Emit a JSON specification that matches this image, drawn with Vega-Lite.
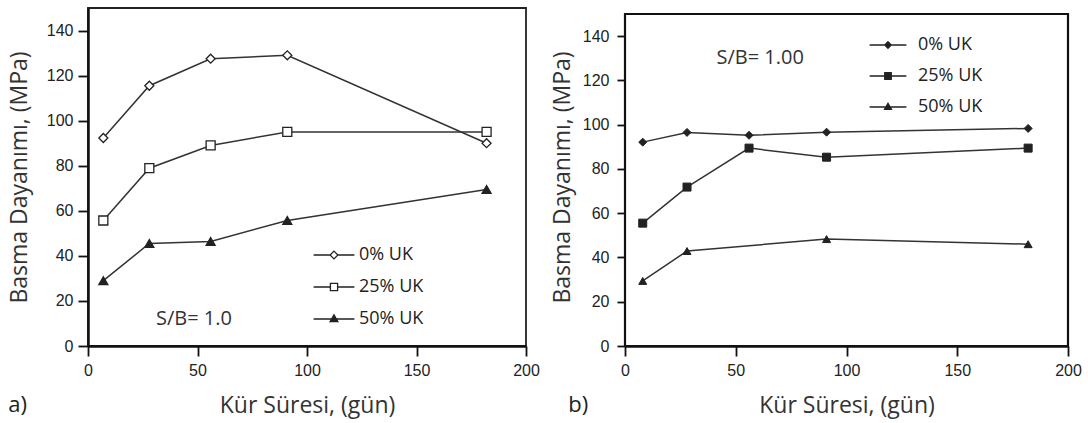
{
  "$schema": "https://vega.github.io/schema/vega-lite/v6.json",
  "background": "white",
  "padding": {"left": 7, "top": 7, "right": 3, "bottom": 3},
  "spacing": 10,
  "resolve": {"scale": {"shape": "independent", "fill": "independent", "x": "independent", "y": "independent"}, "legend": {"shape": "independent", "fill": "independent"}},
  "config": {
    "view": {"stroke": "#222", "strokeWidth": 1.8},
    "axis": {"domainColor": "#111", "domainWidth": 2.5, "tickColor": "#111", "tickWidth": 1.8, "tickSize": 10, "labelFont": "Liberation Sans", "labelFontSize": 16, "labelColor": "#222", "labelPadding": 5, "titleFont": "Open Sans", "titleFontSize": 23, "titleColor": "#333", "titleFontWeight": "normal", "grid": false},
    "axisX": {"labelFlush": false},
    "title": {"font": "Open Sans", "fontSize": 22, "fontWeight": "normal", "color": "#222"}
  },
  "datasets": {
    "a": [
      {"day": 7, "mpa": 92.3, "series": "0% UK"},
      {"day": 28, "mpa": 115.5, "series": "0% UK"},
      {"day": 56, "mpa": 127.5, "series": "0% UK"},
      {"day": 91, "mpa": 129, "series": "0% UK"},
      {"day": 182, "mpa": 90, "series": "0% UK"},
      {"day": 7, "mpa": 55.7, "series": "25% UK"},
      {"day": 28, "mpa": 78.9, "series": "25% UK"},
      {"day": 56, "mpa": 89, "series": "25% UK"},
      {"day": 91, "mpa": 95, "series": "25% UK"},
      {"day": 182, "mpa": 95, "series": "25% UK"},
      {"day": 7, "mpa": 29, "series": "50% UK"},
      {"day": 28, "mpa": 45.5, "series": "50% UK"},
      {"day": 56, "mpa": 46.4, "series": "50% UK"},
      {"day": 91, "mpa": 55.7, "series": "50% UK"},
      {"day": 182, "mpa": 69.5, "series": "50% UK"}
    ],
    "b": [
      {"day": 8, "mpa": 92.1, "series": "0% UK"},
      {"day": 28, "mpa": 96.5, "series": "0% UK"},
      {"day": 56, "mpa": 95.2, "series": "0% UK"},
      {"day": 91, "mpa": 96.6, "series": "0% UK"},
      {"day": 182, "mpa": 98.3, "series": "0% UK"},
      {"day": 8, "mpa": 55.5, "series": "25% UK"},
      {"day": 28, "mpa": 71.8, "series": "25% UK"},
      {"day": 56, "mpa": 89.4, "series": "25% UK"},
      {"day": 91, "mpa": 85.3, "series": "25% UK"},
      {"day": 182, "mpa": 89.4, "series": "25% UK"},
      {"day": 8, "mpa": 29.4, "series": "50% UK"},
      {"day": 28, "mpa": 42.9, "series": "50% UK"},
      {"day": 91, "mpa": 48.3, "series": "50% UK"},
      {"day": 182, "mpa": 46, "series": "50% UK"}
    ],
    "noteA": [{"day": 48.4, "mpa": 12, "label": "S/B= 1.0"}],
    "noteB": [{"day": 61, "mpa": 130, "label": "S/B= 1.00"}],
    "frame": [{"panel": "b"}]
  },
  "hconcat": [
    {
      "width": 438,
      "height": 338,
      "title": {"text": "a)", "orient": "bottom", "anchor": "start", "frame": "bounds", "offset": -22},
      "resolve": {"scale": {"shape": "independent", "fill": "independent"}, "legend": {"shape": "independent", "fill": "independent"}},
      "layer": [
        {
          "data": {"name": "a"},
          "mark": {"type": "line", "color": "#333", "strokeWidth": 1.5},
          "encoding": {
            "x": {"field": "day", "type": "quantitative", "scale": {"domain": [0, 200], "nice": false}, "axis": {"values": [0, 50, 100, 150, 200], "title": "Kür Süresi, (gün)", "titlePadding": 16, "labelPadding": 6}},
            "y": {"field": "mpa", "type": "quantitative", "scale": {"domain": [0, 150], "nice": false}, "axis": {"values": [0, 20, 40, 60, 80, 100, 120, 140], "title": "Basma Dayanımı, (MPa)", "titlePadding": 15}},
            "detail": {"field": "series", "type": "nominal"}
          }
        },
        {
          "data": {"name": "a"},
          "mark": {"type": "point", "filled": true, "stroke": "#222", "strokeWidth": 1.3, "opacity": 1, "size": 81},
          "encoding": {
            "x": {"field": "day", "type": "quantitative"},
            "y": {"field": "mpa", "type": "quantitative"},
            "shape": {"field": "series", "type": "nominal", "scale": {"domain": ["0% UK", "25% UK", "50% UK"], "range": ["diamond", "square", "triangle-up"]}, "legend": null},
            "fill": {"field": "series", "type": "nominal", "scale": {"domain": ["0% UK", "25% UK", "50% UK"], "range": ["white", "white", "#222"]}, "legend": null}
          }
        },
        {
          "data": {"name": "a"},
          "transform": [{"filter": "false"}],
          "mark": {"type": "point", "filled": true, "stroke": "#222", "strokeWidth": 1.3, "opacity": 1},
          "encoding": {
            "x": {"field": "day", "type": "quantitative"},
            "y": {"field": "mpa", "type": "quantitative"},
            "shape": {"field": "series", "type": "nominal",
              "scale": {"domain": ["0% UK", "25% UK", "50% UK"], "range": ["M-3.4,0H-0.65M0.65,0H3.4M0,-0.65L0.65,0L0,0.65L-0.65,0Z", "M-3.4,0H-0.6M0.6,0H3.4M-0.6,-0.6H0.6V0.6H-0.6Z", "M-3.4,0H3.4M0,-0.7L0.65,0.45L-0.65,0.45Z"]},
              "legend": {"orient": "none", "legendX": 237, "legendY": 238, "title": null, "symbolSize": 144, "symbolStrokeWidth": 1.3, "labelFont": "Open Sans", "labelFontSize": 18, "labelColor": "#222", "labelOffset": 16, "rowPadding": 14, "padding": 0}},
            "fill": {"field": "series", "type": "nominal", "scale": {"domain": ["0% UK", "25% UK", "50% UK"], "range": ["white", "white", "#222"]},
              "legend": {"orient": "none", "legendX": 237, "legendY": 238, "title": null, "symbolSize": 144, "symbolStrokeWidth": 1.3, "labelFont": "Open Sans", "labelFontSize": 18, "labelColor": "#222", "labelOffset": 16, "rowPadding": 14, "padding": 0}}
          }
        },
        {
          "data": {"name": "noteA"},
          "mark": {"type": "text", "font": "Open Sans", "fontSize": 20, "color": "#333"},
          "encoding": {
            "x": {"field": "day", "type": "quantitative"},
            "y": {"field": "mpa", "type": "quantitative"},
            "text": {"field": "label"}
          }
        }
      ]
    },
    {
      "width": 443,
      "height": 338,
      "view": {"stroke": null},
      "title": {"text": "b)", "orient": "bottom", "anchor": "start", "frame": "bounds", "offset": -22, "dx": 17},
      "resolve": {"scale": {"shape": "independent"}, "legend": {"shape": "independent"}},
      "layer": [
        {
          "data": {"name": "frame"},
          "mark": {"type": "rect", "filled": false, "stroke": "#111", "strokeWidth": 2.2},
          "encoding": {
            "x": {"datum": 0, "type": "quantitative", "scale": {"domain": [0, 200], "nice": false}, "axis": {"values": [0, 50, 100, 150, 200], "title": "Kür Süresi, (gün)", "titlePadding": 16, "labelPadding": 6}},
            "x2": {"datum": 200},
            "y": {"datum": 0, "type": "quantitative", "scale": {"domain": [0, 152.7], "nice": false}, "axis": {"values": [0, 20, 40, 60, 80, 100, 120, 140], "title": "Basma Dayanımı, (MPa)", "titlePadding": 8, "tickSize": 8, "labelPadding": 8, "domain": false}},
            "y2": {"datum": 150}
          }
        },
        {
          "data": {"name": "b"},
          "mark": {"type": "line", "color": "#333", "strokeWidth": 1.5},
          "encoding": {
            "x": {"field": "day", "type": "quantitative"},
            "y": {"field": "mpa", "type": "quantitative"},
            "detail": {"field": "series", "type": "nominal"}
          }
        },
        {
          "data": {"name": "b"},
          "mark": {"type": "point", "filled": true, "stroke": "#222", "strokeWidth": 1, "opacity": 1, "size": 64, "color": "#222"},
          "encoding": {
            "x": {"field": "day", "type": "quantitative"},
            "y": {"field": "mpa", "type": "quantitative"},
            "shape": {"field": "series", "type": "nominal", "scale": {"domain": ["0% UK", "25% UK", "50% UK"], "range": ["diamond", "square", "triangle-up"]}, "legend": null}
          }
        },
        {
          "data": {"name": "b"},
          "transform": [{"filter": "false"}],
          "mark": {"type": "point", "filled": true, "stroke": "#222", "strokeWidth": 1.3, "opacity": 1, "color": "#222"},
          "encoding": {
            "x": {"field": "day", "type": "quantitative"},
            "y": {"field": "mpa", "type": "quantitative"},
            "shape": {"field": "series", "type": "nominal",
              "scale": {"domain": ["0% UK", "25% UK", "50% UK"], "range": ["M-3.4,0H3.4M0,-0.6L0.6,0L0,0.6L-0.6,0Z", "M-3.4,0H3.4M-0.6,-0.6H0.6V0.6H-0.6Z", "M-3.4,0H3.4M0,-0.7L0.65,0.45L-0.65,0.45Z"]},
              "legend": {"orient": "none", "legendX": 254, "legendY": 28, "title": null, "symbolSize": 117, "symbolStrokeWidth": 1.3, "labelFont": "Open Sans", "labelFontSize": 18, "labelColor": "#222", "labelOffset": 21, "rowPadding": 13, "padding": 0}}
          }
        },
        {
          "data": {"name": "noteB"},
          "mark": {"type": "text", "font": "Open Sans", "fontSize": 20, "color": "#333"},
          "encoding": {
            "x": {"field": "day", "type": "quantitative"},
            "y": {"field": "mpa", "type": "quantitative"},
            "text": {"field": "label"}
          }
        }
      ]
    }
  ]
}
